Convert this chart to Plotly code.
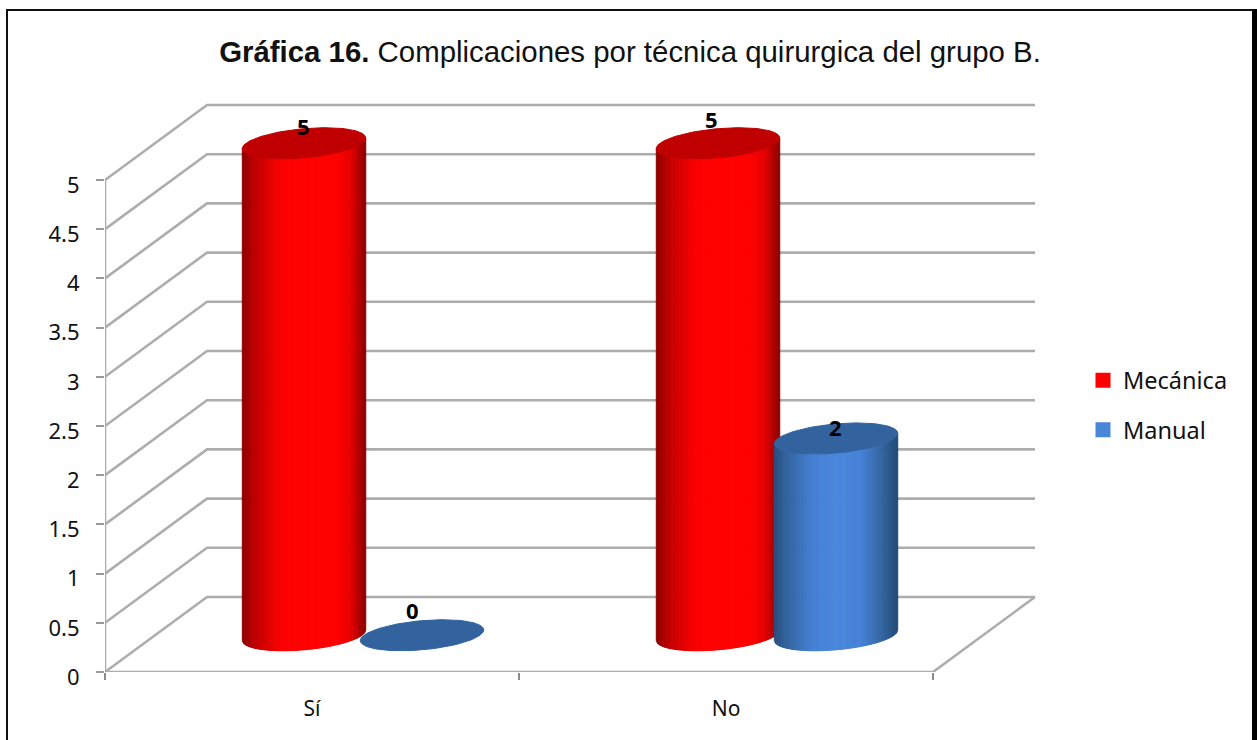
import math
import plotly.graph_objects as go

# ---- data ----
categories = ["Sí", "No"]
mecanica = [5, 5]
manual = [0, 2]
y_ticks = [0, 0.5, 1, 1.5, 2, 2.5, 3, 3.5, 4, 4.5, 5]
y_tick_labels = ["0", "0.5", "1", "1.5", "2", "2.5", "3", "3.5", "4", "4.5", "5"]

# ---- layout geometry ----
W, H = 1257, 740
L, B, T, R = 105, 68, 90, 197
PX_PER_CAT = 414.0
PX_PER_VAL = 98.4
X_MAX = (W - R - L) / PX_PER_CAT
Y_MAX = (H - B - T) / PX_PER_VAL
DX = 102 / PX_PER_CAT      # oblique shift of the full depth
DY = 75 / PX_PER_VAL
DEPTH_MID = 0.49
BAR_CENTER = 0.5025
BAR_OFFSET = 0.1425
R_X = 58.0 / PX_PER_CAT
R_D = 0.207
GRID = "#adadad"
TEXT_FONT = "Noto Sans"

RED_STOPS = [(0, "#900000"), (.1, "#c00000"), (.28, "#f40000"), (.38, "#ff0000"),
             (.76, "#ff0000"), (.88, "#e20000"), (1, "#820000")]
BLUE_STOPS = [(0, "#285080"), (.1, "#33649f"), (.3, "#4580d2"), (.5, "#4a88dc"),
              (.7, "#4681d6"), (.87, "#34659f"), (1, "#224875")]
RED_CAP, BLUE_CAP = "#c00000", "#33639f"


def project(x, v, d):
    return x + d * DX, v + d * DY


def mix(stops, s):
    for (a, ca), (b, cb) in zip(stops, stops[1:]):
        if s <= b:
            f = (s - a) / (b - a)
            pa = [int(ca[i:i + 2], 16) for i in (1, 3, 5)]
            pb = [int(cb[i:i + 2], 16) for i in (1, 3, 5)]
            return "rgb(%d,%d,%d)" % tuple(round(p + (q - p) * f) for p, q in zip(pa, pb))
    return stops[-1][1]


fig = go.Figure()


def line(xs, ys, color=GRID, width=2.6):
    fig.add_trace(go.Scatter(x=xs, y=ys, mode="lines", showlegend=False, hoverinfo="skip",
                             line=dict(color=color, width=width)))


# back wall and side wall gridlines, one per tick
for v in y_ticks:
    a = project(0, v, 1)
    line([0, a[0], 2 + DX], [v, a[1], a[1]])
# axis lines and floor
line([0, 0], [0, 5])
e = project(2, 0, 1)
line([0, 2, e[0]], [0, 0, e[1]])


def cylinder(center, value, stops, cap):
    t0 = math.atan2(DX * R_D, R_X)
    rim = lambda t, v: project(center + R_X * math.cos(t), v, DEPTH_MID + R_D * math.sin(t))
    if value > 0:
        n = 70
        for i in range(n):
            u1, u2 = 1 - 2 * i / n, 1 - 2 * (i + 1) / n
            t1, t2 = t0 - math.acos(u1), t0 - math.acos(u2)
            ts = [t1 + (t2 - t1) * k / 4 for k in range(5)]
            low = [rim(t, 0) for t in ts]
            top = [rim(t, value) for t in reversed(ts)]
            pts = low + top + low[:1]
            # s runs from right edge to left edge along the front of the rim
            c = mix(stops, 1 - (i + .5) / n)
            fig.add_trace(go.Scatter(x=[p[0] for p in pts], y=[p[1] for p in pts], mode="lines",
                                     fill="toself", fillcolor=c, line=dict(color=c, width=1),
                                     showlegend=False, hoverinfo="skip"))
    ring = [rim(2 * math.pi * k / 120, value) for k in range(121)]
    fig.add_trace(go.Scatter(x=[p[0] for p in ring], y=[p[1] for p in ring], mode="lines",
                             fill="toself", fillcolor=cap, line=dict(color=cap, width=1),
                             showlegend=False, hoverinfo="skip"))


label_shift = {("Mecánica", 0): (-1, 17), ("Mecánica", 1): (-7, 24),
               ("Manual", 0): (-10, 25), ("Manual", 1): (-1, 11)}
annotations = []
for name, vals, off, stops, cap in (("Mecánica", mecanica, -BAR_OFFSET, RED_STOPS, RED_CAP),
                                    ("Manual", manual, BAR_OFFSET, BLUE_STOPS, BLUE_CAP)):
    for i, v in enumerate(vals):
        c = i + BAR_CENTER + off
        cylinder(c, v, stops, cap)
        px, py = project(c, v, DEPTH_MID)
        sx, sy = label_shift[(name, i)]
        annotations.append(dict(x=px, y=py, text=str(v), showarrow=False, xshift=sx, yshift=sy,
                                font=dict(family=TEXT_FONT, size=22, color="black", weight="bold")))

# legend entries
fig.add_trace(go.Scatter(x=[None], y=[None], mode="markers", name="Mecánica", legendgroup="a",
                         marker=dict(symbol="square", size=15, color="#ff0000")))
fig.add_trace(go.Scatter(x=[None], y=[None], mode="markers", name="Manual", legendgroup="b",
                         marker=dict(symbol="square", size=15, color="#4a86d8")))

pw, ph = W - L - R, H - T - B
px2x = lambda p: (p - L) / pw
py2y = lambda p: (H - B - p) / ph
shapes = [
    dict(type="rect", xref="paper", yref="paper", x0=px2x(7), x1=px2x(1253), y0=py2y(745), y1=py2y(10),
         line=dict(color="#111111", width=2), fillcolor="rgba(0,0,0,0)", layer="below"),
    dict(type="rect", xref="paper", yref="paper", x0=px2x(1252), x1=px2x(1258), y0=py2y(745), y1=py2y(9),
         line=dict(width=0), fillcolor="#000000"),
]

fig.update_layout(
    width=W, height=H, autosize=False,
    margin=dict(l=L, r=R, t=T, b=B, pad=0),
    paper_bgcolor="white", plot_bgcolor="white",
    title=dict(text="<b>Gráfica 16.</b> Complicaciones por técnica quirurgica del grupo B.",
               x=630 / W, xanchor="center", y=1 - 52 / H, yanchor="middle",
               font=dict(family="Liberation Sans", size=29.4, color="#111111")),
    xaxis=dict(range=[0, X_MAX], showgrid=False, zeroline=False, showline=False,
               tickmode="array", tickvals=[0.5, 1.5], ticktext=categories, ticks="", ticklabelstandoff=22,
               tickfont=dict(family=TEXT_FONT, size=21, color="#111111"),
               minor=dict(tickmode="array", tickvals=[0, 1, 2], ticks="outside", ticklen=7,
                          tickwidth=1.5, tickcolor="#8a8a8a", showgrid=False)),
    yaxis=dict(range=[0, Y_MAX], showgrid=False, zeroline=False, showline=False,
               tickmode="array", tickvals=y_ticks, ticktext=y_tick_labels,
               ticks="outside", ticklen=8, tickwidth=2, tickcolor="#999999", ticklabelstandoff=12,
               ticklabelshift=5,
               tickfont=dict(family=TEXT_FONT, size=22, color="#111111")),
    legend=dict(x=px2x(1083), xanchor="left", y=py2y(405.5), yanchor="middle", tracegroupgap=16,
                itemwidth=30, font=dict(family=TEXT_FONT, size=23.5, color="#111111"),
                bgcolor="rgba(0,0,0,0)"),
    annotations=annotations, shapes=shapes, hovermode=False,
)

fig.write_html("out.html", post_script="document.body.style.margin='0';document.body.style.overflow='hidden';",
               config=dict(displayModeBar=False))
